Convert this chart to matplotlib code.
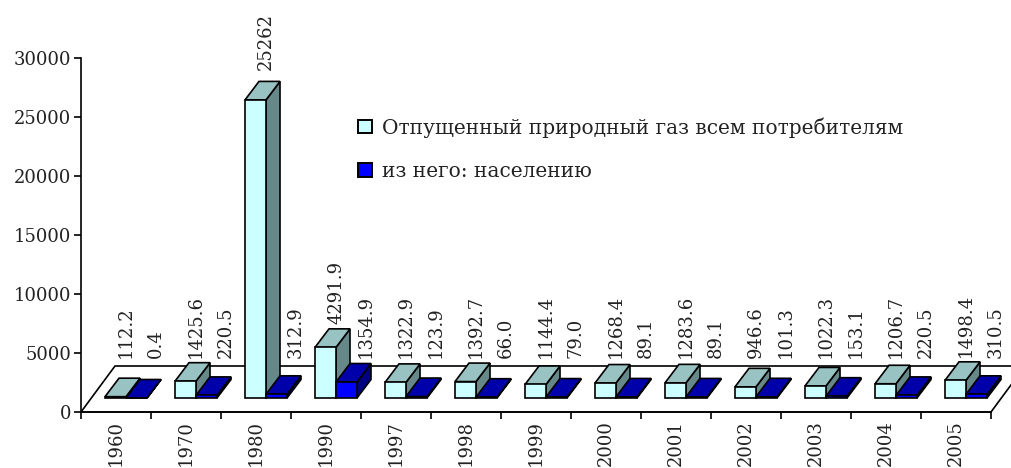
import matplotlib
matplotlib.use('Agg')
import matplotlib.pyplot as plt
from matplotlib.patches import Polygon, Patch

# Data
years = ['1960', '1970', '1980', '1990', '1997', '1998', '1999', '2000',
         '2001', '2002', '2003', '2004', '2005']
total_gas = [112.2, 1425.6, 25262, 4291.9, 1322.9, 1392.7, 1144.4, 1268.4,
             1283.6, 946.6, 1022.3, 1206.7, 1498.4]
households = [0.4, 220.5, 312.9, 1354.9, 123.9, 66.0, 79.0, 89.1,
              89.1, 101.3, 153.1, 220.5, 310.5]
y_ticks = [0, 5000, 10000, 15000, 20000, 25000, 30000]
names = ['Отпущенный природный газ всем потребителям', 'из него: населению']

# Style
FONT = 'DejaVu Serif'
W, H = 1011, 468
COLORS_1 = ('#CCFFFF', '#99C2C2', '#668888')  # front, top, side
COLORS_2 = ('#0000FF', '#0000AA', '#000080')
EDGE_W = 1.2
TEXT = '#222222'

# pixel sizes converted to data units (70 px per category, 354 px per 30000)
PX_X = 1 / 70
PX_Y = 30000 / 354
DEPTH_X, DEPTH_Y = 14 * PX_X, 18.5 * PX_Y
FLOOR_X, FLOOR_Y = 34 * PX_X, 46 * PX_Y
BASE_Y = 14 * PX_Y
BAR_W = 21 * PX_X
BAR_OFF = 24 * PX_X
LABEL_MIN = 54 * PX_Y

plt.rcParams['font.family'] = FONT
plt.rcParams['text.color'] = TEXT
fig = plt.figure(figsize=(W / 100, H / 100), dpi=100)
ax = fig.add_axes([81 / W, (H - 412) / H, 910 / W, 354 / H])
ax.set_xlim(0, len(years))
ax.set_ylim(0, 30000)


def add_poly(pts, color, z):
    ax.add_patch(Polygon(pts, closed=True, facecolor=color, edgecolor='black',
                         linewidth=EDGE_W, joinstyle='miter', clip_on=False, zorder=z))


def bar3d(x0, value, colors, z):
    x1 = x0 + BAR_W
    y0 = BASE_Y
    y1 = BASE_Y + value
    dx, dy = DEPTH_X, DEPTH_Y
    add_poly([(x1, y0), (x1 + dx, y0 + dy), (x1 + dx, y1 + dy), (x1, y1)], colors[2], z)
    add_poly([(x0, y1), (x1, y1), (x1 + dx, y1 + dy), (x0 + dx, y1 + dy)], colors[1], z)
    add_poly([(x0, y0), (x1, y0), (x1, y1), (x0, y1)], colors[0], z)


def value_label(x, value):
    # Excel pushes the short bars' labels up to about the same height
    y = max(LABEL_MIN, BASE_Y + value + DEPTH_Y + (4 + value * 0.0003) * PX_Y)
    ax.text(x, y, str(value), rotation=90, ha='center', va='bottom',
            fontsize=13, zorder=10)


# Floor
n = len(years)
add_poly([(0, 0), (FLOOR_X, FLOOR_Y), (n + FLOOR_X, FLOOR_Y), (n, 0)], 'white', 1)

for i in range(n):
    x_left = i + BAR_OFF
    bar3d(x_left, total_gas[i], COLORS_1, 3)
    bar3d(x_left + BAR_W, households[i], COLORS_2, 4)
    value_label(x_left + 21 * PX_X, total_gas[i])
    value_label(x_left + 51 * PX_X, households[i])

# Axes
for side in ['top', 'right']:
    ax.spines[side].set_visible(False)
for side in ['left', 'bottom']:
    ax.spines[side].set_linewidth(EDGE_W)
    ax.spines[side].set_zorder(5)
ax.patch.set_visible(False)
ax.set_yticks(y_ticks)
ax.tick_params(axis='y', length=5, width=EDGE_W, labelsize=13, pad=2, labelcolor=TEXT)
ax.set_xticks(range(n + 1))
ax.set_xticklabels([])
ax.set_xticks([i + 0.5 for i in range(n)], minor=True)
ax.set_xticklabels(years, minor=True, rotation=90, fontsize=13, color=TEXT)
ax.tick_params(axis='x', which='major', length=5, width=EDGE_W)
ax.tick_params(axis='x', which='minor', length=0, pad=6)

# Legend
handles = [Patch(facecolor=COLORS_1[0], edgecolor='black', linewidth=1.4),
           Patch(facecolor=COLORS_2[0], edgecolor='black', linewidth=1.4)]
fig.legend(handles, names, loc='upper left', bbox_to_anchor=(358 / W, 1 - 117 / H),
           frameon=False, fontsize=14.5, handlelength=0.68, handleheight=0.68,
           handletextpad=0.5, labelspacing=1.2, borderpad=0, borderaxespad=0)

fig.savefig('out.png', dpi=100)
